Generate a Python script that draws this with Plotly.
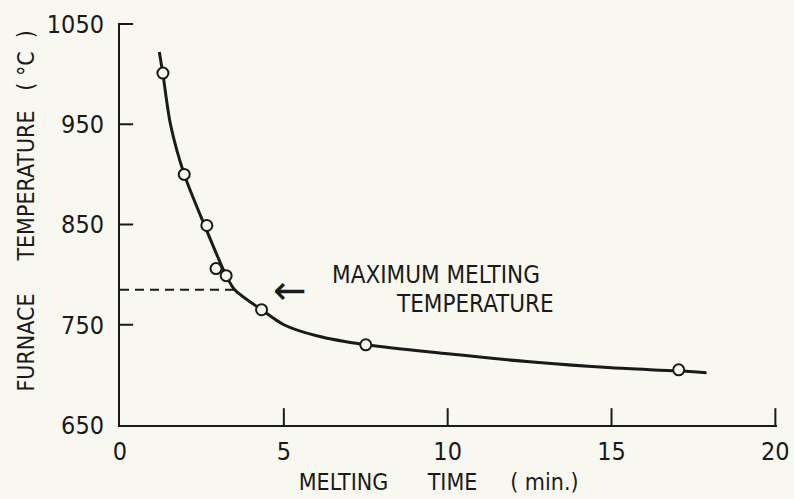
import plotly.graph_objects as go

# Measured points (melting time in min, furnace temperature in °C)
time_pts = [1.31, 1.96, 2.65, 2.93, 3.24, 4.32, 7.5, 17.05]
temp_pts = [1001, 900, 849, 806, 799, 765, 730, 705]

# Smooth fitted curve
curve_t = [1.2, 1.31, 1.54, 1.96, 2.57, 3.24, 3.5, 4.32, 5.0, 6.0, 7.5, 10.0, 12.5, 15.0, 17.0, 17.9]
curve_T = [1022, 1000, 950, 900, 850, 799, 785, 765, 750, 739, 730, 721, 713, 707, 704, 702]

# Maximum melting temperature marker
max_melt_T = 785
dash_x = [0, 3.5]

x_ticks = [0, 5, 10, 15, 20]
y_ticks = [650, 750, 850, 950, 1050]

BG = "#f8f8f1"
INK = "#1a1a1a"
FONT = "DejaVu Sans Condensed, DejaVu Sans, sans-serif"
NB = "\u00a0"
ZW = "\u200b"
Y_TICK_LEN = 0.4  # inward tick length, in x units (style)

fig = go.Figure()
fig.add_trace(go.Scatter(x=curve_t, y=curve_T, mode="lines",
                         line=dict(color=INK, width=3, shape="spline", smoothing=0.8),
                         hoverinfo="skip", showlegend=False))
fig.add_trace(go.Scatter(x=dash_x, y=[max_melt_T, max_melt_T], mode="lines",
                         line=dict(color=INK, width=2, dash="9px,6px"),
                         showlegend=False))
fig.add_trace(go.Scatter(x=time_pts, y=temp_pts, mode="markers",
                         marker=dict(symbol="circle", size=11, color=BG,
                                     line=dict(color=INK, width=2)),
                         showlegend=False))

# Inward tick marks on the x axis (half of each marker is clipped by the plot area)
fig.add_trace(go.Scatter(x=x_ticks[1:], y=[y_ticks[0]] * (len(x_ticks) - 1), mode="markers",
                         marker=dict(symbol="line-ns", size=24, line=dict(color=INK, width=2)),
                         cliponaxis=True, hoverinfo="skip", showlegend=False))
# Inward tick marks on the y axis
ytx, yty = [], []
for v in y_ticks[1:]:
    ytx += [x_ticks[0], x_ticks[0] + Y_TICK_LEN, None]
    yty += [v, v, None]
fig.add_trace(go.Scatter(x=ytx, y=yty, mode="lines", line=dict(color=INK, width=2),
                         hoverinfo="skip", showlegend=False))

# Arrow pointing to the dashed line
fig.add_annotation(x=4.6, y=max_melt_T, xref="x", yref="y", xanchor="left", yanchor="middle",
                   text="←", showarrow=False,
                   font=dict(family="DejaVu Sans", size=40, color=INK))
fig.add_annotation(x=6.42, y=800.1, xref="x", yref="y", xanchor="left", yanchor="middle",
                   text="MAXIMUM MELTING", showarrow=False,
                   font=dict(family=FONT, size=24, color=INK))
fig.add_annotation(x=8.37, y=771.2, xref="x", yref="y", xanchor="left", yanchor="middle",
                   text="TEMPERATURE", showarrow=False,
                   font=dict(family=FONT, size=24, color=INK))

fig.update_xaxes(range=[0, 20.05], tickmode="array", tickvals=x_ticks, ticktext=[str(v) for v in x_ticks],
                 showgrid=False, zeroline=False, showline=True, linecolor=INK, linewidth=2,
                 ticks="", ticklabelstandoff=3, automargin=False,
                 tickfont=dict(family=FONT, size=25, color=INK),
                 title=dict(text="MELTING" + NB * 6 + "TIME" + NB * 5 + "(" + NB + "min.)" + NB * 3 + ZW,
                            standoff=9, font=dict(family=FONT, size=23, color=INK)))
fig.update_yaxes(range=[650, 1051], tickmode="array", tickvals=y_ticks, ticktext=[str(v) for v in y_ticks],
                 showgrid=False, zeroline=False, showline=True, linecolor=INK, linewidth=2,
                 ticks="", ticklabelstandoff=9, automargin=False,
                 tickfont=dict(family=FONT, size=25, color=INK),
                 title=dict(text=ZW + NB * 4 + "FURNACE" + NB * 5 + "TEMPERATURE" + NB * 3 + "(" + NB + "°C" + NB * 2 + ")",
                            standoff=6, font=dict(family=FONT, size=23, color=INK)))

fig.update_layout(width=794, height=499, paper_bgcolor=BG, plot_bgcolor=BG,
                  margin=dict(l=120, r=17, t=23, b=74), showlegend=False)

fig.write_html("out.html", config={"displayModeBar": False},
               post_script="document.body.style.margin='0';")
